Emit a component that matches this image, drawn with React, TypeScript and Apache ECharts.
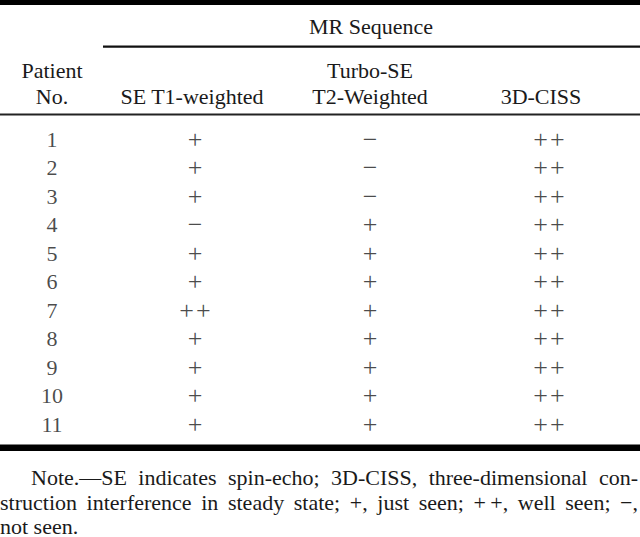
import React, { useEffect, useRef } from 'react';
import * as echarts from 'echarts';

// ---- Data ----
const patients = ['1', '2', '3', '4', '5', '6', '7', '8', '9', '10', '11'];
const seT1Weighted = ['+', '+', '+', '−', '+', '+', '+\u200A+', '+', '+', '+', '+'];
const turboSeT2Weighted = ['−', '−', '−', '+', '+', '+', '+', '+', '+', '+', '+'];
const cissThreeD = ['+\u200A+', '+\u200A+', '+\u200A+', '+\u200A+', '+\u200A+', '+\u200A+', '+\u200A+', '+\u200A+', '+\u200A+', '+\u200A+', '+\u200A+'];
const groupHeader = 'MR Sequence';
const columnHeaders = [['Patient', 'No.'], ['SE T1-weighted'], ['Turbo-SE', 'T2-Weighted'], ['3D-CISS']];
const noteLines = [
  'Note.—SE indicates spin-echo; 3D-CISS, three-dimensional con-',
  'struction interference in steady state; +, just seen; +\u2009+, well seen; −,',
  'not seen.',
];

// ---- Layout / style ----
const W = 640;
const H = 537;
const FONT = 'Liberation Serif';
const COLOR = '#1a1a1a';
const TABLE_SIZE = 22;
const SYMBOL_SIZE = 26;
const NOTE_SIZE = 22;
const colX = [52, 195, 370, 549];
const headerX = [52, 192, 370, 541];

function measureWidths(words: string[], size: number): number[] {
  const c = document.createElement('canvas');
  const ctx = c.getContext('2d') as CanvasRenderingContext2D;
  ctx.font = `${size}px "Liberation Serif"`;
  return words.map((w) => ctx.measureText(w).width);
}

function justifiedLine(text: string, x0: number, x1: number, y: number, size: number, justify: boolean) {
  const words = text.split(' ');
  const widths = measureWidths(words, size);
  const total = widths.reduce((a, b) => a + b, 0);
  const spaceW = measureWidths([' '], size)[0];
  let gap = justify && words.length > 1 ? (x1 - x0 - total) / (words.length - 1) : spaceW;
  if (gap < 2) gap = 2;
  let x = x0;
  return words.map((w, i) => {
    const el = {
      type: 'text',
      x,
      y,
      style: {
        text: w,
        fill: COLOR,
        fontSize: size,
        fontFamily: FONT,
        textAlign: 'left',
        textVerticalAlign: 'middle',
        verticalAlign: 'middle',
      },
    };
    x += widths[i] + gap;
    return el;
  });
}

function headerText(text: string, x: number, y: number) {
  return {
    type: 'text',
    x,
    y,
    style: {
      text,
      fill: COLOR,
      fontSize: TABLE_SIZE,
      fontFamily: FONT,
      textAlign: 'center',
      textVerticalAlign: 'middle',
      verticalAlign: 'middle',
    },
  };
}

export default function App() {
  const ref = useRef<HTMLDivElement>(null);
  useEffect(() => {
    document.body.style.margin = '0';
    if (!ref.current) return;
    const chart = echarts.init(ref.current, undefined, { renderer: 'svg' });

    const columns = [patients, seT1Weighted, turboSeT2Weighted, cissThreeD];
    const series = columns.map((col, j) => ({
      type: 'scatter',
      symbolSize: 0,
      silent: true,
      itemStyle: { color: COLOR },
      data: patients.map((p, i) => [colX[j], p, col[i]]),
      label: {
        show: true,
        position: 'inside',
        formatter: (prm: any) => prm.value[2],
        color: COLOR,
        textBorderWidth: 0,
        fontSize: j === 0 ? TABLE_SIZE : SYMBOL_SIZE,
        fontFamily: FONT,
      },
    }));

    const graphics: any[] = [];
    // rules
    graphics.push({ type: 'rect', shape: { x: 0, y: 0, width: W, height: 5 }, style: { fill: '#000' } });
    graphics.push({ type: 'rect', shape: { x: 103, y: 45.5, width: W - 103, height: 2.3 }, style: { fill: '#111' } });
    graphics.push({ type: 'rect', shape: { x: 0, y: 113.5, width: W, height: 2 }, style: { fill: '#222' } });
    graphics.push({ type: 'rect', shape: { x: 0, y: 444.5, width: W, height: 6.5 }, style: { fill: '#000' } });
    // headers
    graphics.push(headerText(groupHeader, 371, 26));
    columnHeaders.forEach((lines, j) => {
      const n = lines.length;
      lines.forEach((t, k) => {
        graphics.push(headerText(t, headerX[j], 96 - (n - 1 - k) * 26));
      });
    });
    // note
    graphics.push(...justifiedLine(noteLines[0], 31, 638, 477, NOTE_SIZE, true));
    graphics.push(...justifiedLine(noteLines[1], 0, 638, 502, NOTE_SIZE, true));
    graphics.push(...justifiedLine(noteLines[2], 0, 638, 526, NOTE_SIZE, false));

    chart.setOption({
      animation: false,
      backgroundColor: '#fff',
      grid: { left: 0, right: 0, top: 124.75, height: 313.5 },
      xAxis: { type: 'value', min: 0, max: W, show: false },
      yAxis: { type: 'category', data: patients, inverse: true, show: false, boundaryGap: true },
      series,
      graphic: graphics,
    });
    return () => chart.dispose();
  }, []);
  return <div ref={ref} style={{ width: W, height: H }} />;
}
